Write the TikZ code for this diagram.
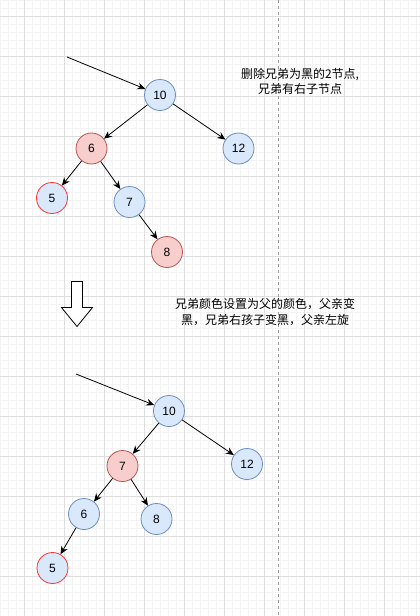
\documentclass[tikz,border=0pt]{standalone}
\usepackage{fontspec}
\setmainfont{Liberation Sans}
\newfontfamily\cjk{Noto Sans CJK SC}
\usepackage{xcolor}
\usetikzlibrary{shapes, positioning, arrows.meta}

\definecolor{blueFill}{HTML}{DAE8FC}
\definecolor{blueLine}{HTML}{6C8EBF}
\definecolor{redFill}{HTML}{F8CECC}
\definecolor{redLine}{HTML}{B85450}
\definecolor{brightRed}{HTML}{FF3333}
\definecolor{minorGrid}{HTML}{F3F3F3}
\definecolor{majorGrid}{HTML}{DEDEDE}

\tikzset{
    rbnode/.style={circle, minimum size=31pt, inner sep=0pt, line width=0.8pt,
        font=\fontsize{12}{14}\selectfont},
    blacknode/.style={rbnode, fill=blueFill, draw=blueLine},
    rednode/.style={rbnode, fill=redFill, draw=redLine},
    delnode/.style={rbnode, fill=blueFill, draw=brightRed},
    note/.style={align=center, font=\cjk\fontsize{12}{15.5}\selectfont},
    >={Stealth[length=8pt, width=7pt]}
}

\begin{document}
\begin{tikzpicture}[x=1pt, y=-1pt, line width=0.8pt]
        \useasboundingbox (0, 0) rectangle (420, 616);
        \fill[white] (0, 0) rectangle (420, 616);
        % background grid
        \foreach \gx in {0, 8, ..., 420} \draw[minorGrid, line width=0.5pt] (\gx, 0) -- (\gx, 616);
        \foreach \gy in {0, 8, ..., 616} \draw[minorGrid, line width=0.5pt] (0, \gy) -- (420, \gy);
        \foreach \gx in {24, 64, ..., 420} \draw[majorGrid, line width=0.6pt] (\gx, 0) -- (\gx, 616);
        \foreach \gy in {16, 56, ..., 616} \draw[majorGrid, line width=0.6pt] (0, \gy) -- (420, \gy);
        \draw[gray!80, dashed, line width=0.6pt] (278.5, 0) -- (278.5, 616);

        % before
        \coordinate (in1) at (67, 57);
        \node[blacknode] (t10) at (160, 95) {10};
        \node[rednode] (t6) at (91.5, 148.5) {6};
        \node[blacknode] (t12) at (238.5, 148.5) {12};
        \node[delnode] (t5) at (52, 198) {5};
        \node[blacknode] (t7) at (129.5, 202) {7};
        \node[rednode] (t8) at (167, 252) {8};

        \draw[->] (in1) to (t10);
        \draw[->] (t10) to (t6);
        \draw[->] (t10) to (t12);
        \draw[->] (t6) to (t5);
        \draw[->] (t6) to (t7);
        \draw[->] (t7) to (t8);

        \node[note] (txt1) at (300, 81.5) {删除兄弟为黑的2节点,\\兄弟有右子节点};

        % rotate step
        \draw[fill=white] (71.5, 281.5) -- (82.5, 281.5) -- (82.5, 307.5) -- (92.5, 307.5)
            -- (77, 326.5) -- (61.5, 307.5) -- (71.5, 307.5) -- cycle;
        \node[note] (txt2) at (265, 312) {兄弟颜色设置为父的颜色，父亲变\\黑，兄弟右孩子变黑，父亲左旋};

        % after
        \coordinate (in2) at (76, 374);
        \node[blacknode] (b10) at (169, 411) {10};
        \node[rednode] (b7) at (122.5, 466) {7};
        \node[blacknode] (b12) at (247, 464) {12};
        \node[blacknode] (b6) at (84, 514) {6};
        \node[blacknode] (b8) at (156.5, 519) {8};
        \node[delnode] (b5) at (52.5, 568) {5};

        \draw[->] (in2) to (b10);
        \draw[->] (b10) to (b7);
        \draw[->] (b10) to (b12);
        \draw[->] (b7) to (b6);
        \draw[->] (b7) to (b8);
        \draw[->] (b6) to (b5);
    \end{tikzpicture}
\end{document}
